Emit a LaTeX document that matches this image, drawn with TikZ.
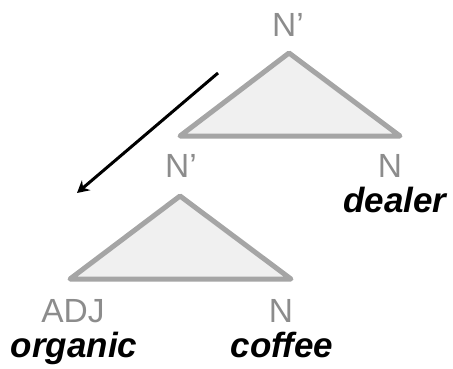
\documentclass[tikz,border=0pt]{standalone}
\usepackage{fontspec}
\setmainfont{Liberation Sans}
\usepackage{tikz}
\usetikzlibrary{arrows.meta}

\definecolor{catgray}{RGB}{140,140,140}
\definecolor{linegray}{RGB}{165,165,165}
\definecolor{fillgray}{RGB}{240,240,240}

\begin{document}
\begin{tikzpicture}[x=1pt,y=-1pt,
  cat/.style={anchor=base,inner sep=0pt,text=catgray,font=\fontsize{33.5}{34}\selectfont},
  word/.style={anchor=base,inner sep=0pt,font=\fontsize{35}{36}\selectfont\bfseries\itshape},
  tri/.style={fill=fillgray,draw=linegray,line width=5pt,line join=round}]
\useasboundingbox (0,0) rectangle (453,369);
\coordinate (topapex) at (289,53);
\coordinate (topleft) at (180,136);
\coordinate (topright) at (400,136);
\coordinate (lowapex) at (180,196);
\coordinate (lowleft) at (70,279);
\coordinate (lowright) at (291,279);
\filldraw[tri] (topapex) -- (topleft) -- (topright) -- cycle;
\filldraw[tri] (lowapex) -- (lowleft) -- (lowright) -- cycle;
\node[cat] (nbartop) at (288,37) {N'};
\node[cat] (nbarlow) at (181,177) {N'};
\node[cat] (ntop) at (390,177) {N};
\node[word] (dealer) at (395,212) {dealer};
\node[cat] (adj) at (73,322) {ADJ};
\node[cat] (nlow) at (281,322) {N};
\node[word] (organic) at (74,357) {organic};
\node[word] (coffee) at (282,357) {coffee};
\coordinate (arrowstart) at (218,73);
\coordinate (arrowend) at (77,193);
\draw[-{Stealth[length=12pt,width=13pt,inset=4pt]},line width=3pt] (arrowstart) -- (arrowend);
\end{tikzpicture}
\end{document}
